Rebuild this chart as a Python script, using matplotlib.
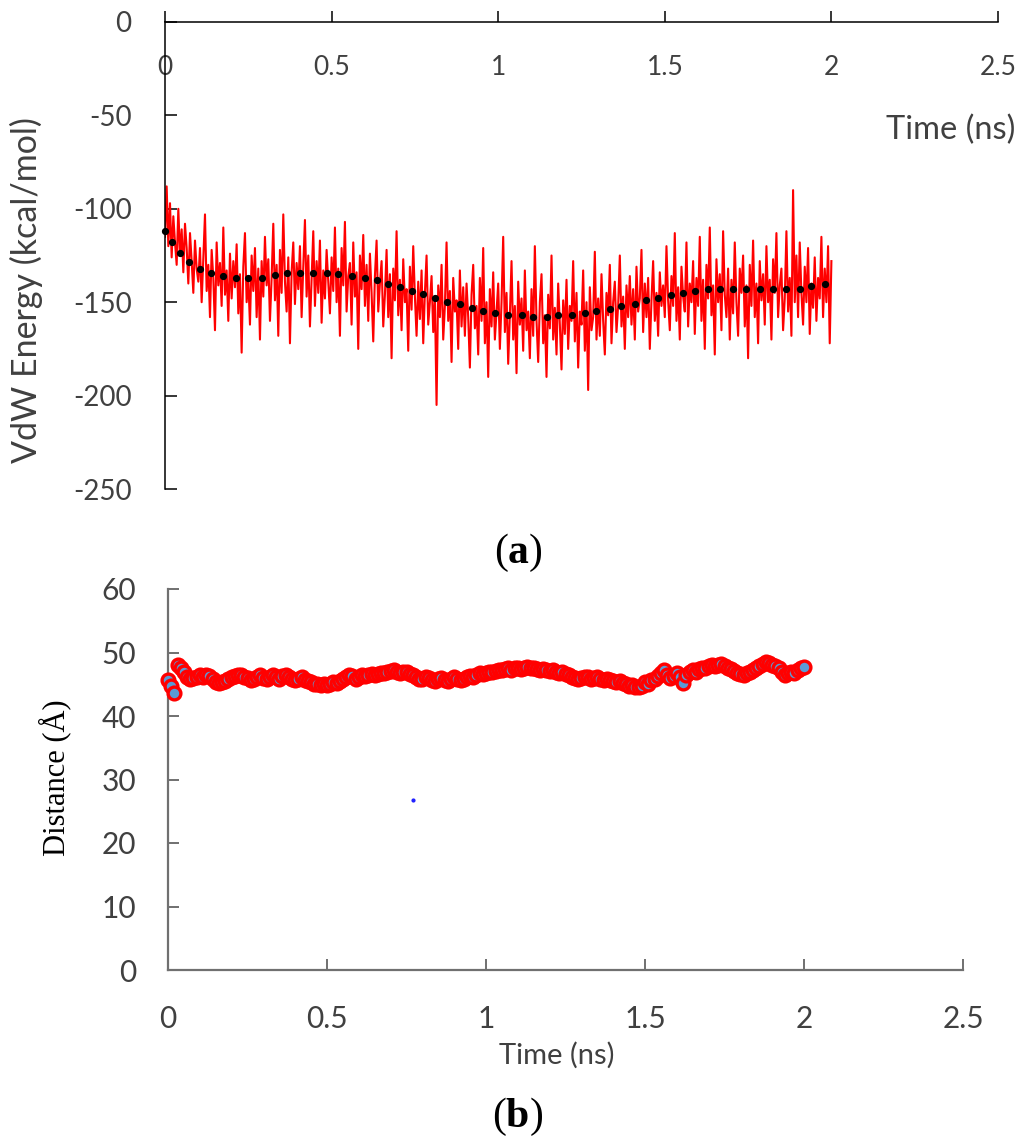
import numpy as np
import matplotlib
matplotlib.use("Agg")
import matplotlib.pyplot as plt

# ---------------- data: panel (a) ----------------
vdw_dt = 0.005  # ns between frames
vdw_energy = [
    -115, -88, -120, -97, -126, -104, -118, -130, -100, -125, -111, -134, -108, -121, -140, -113, -128, -145, -117, -132,
    -139, -121, -150, -126, -103, -144, -130, -158, -122, -137, -165, -118, -141, -129, -152, -110, -146, -133, -160, -124,
    -148, -128, -142, -119, -156, -135, -177, -131, -113, -150, -138, -162, -125, -144, -121, -158, -132, -170, -128, -147,
    -115, -141, -127, -160, -137, -108, -149, -130, -168, -122, -145, -103, -139, -155, -126, -172, -134, -118, -151, -129,
    -143, -120, -158, -131, -106, -147, -125, -163, -138, -112, -152, -128, -145, -117, -161, -133, -148, -122, -139, -156,
    -126, -144, -110, -150, -132, -168, -121, -141, -107, -155, -136, -129, -162, -118, -147, -134, -175, -125, -143, -114,
    -152, -130, -160, -124, -145, -171, -136, -117, -155, -140, -128, -163, -146, -122, -158, -135, -180, -132, -149, -112,
    -157, -138, -165, -127, -150, -143, -176, -131, -154, -120, -147, -168, -139, -159, -133, -172, -145, -125, -162, -150,
    -136, -166, -148, -205, -141, -158, -130, -170, -152, -118, -160, -144, -182, -137, -155, -149, -175, -133, -163, -142,
    -168, -140, -158, -185, -146, -130, -164, -152, -178, -137, -160, -121, -172, -150, -190, -143, -163, -134, -170, -155,
    -140, -175, -150, -115, -166, -145, -183, -157, -128, -170, -152, -188, -139, -162, -148, -176, -133, -165, -155, -180,
    -143, -168, -120, -160, -182, -150, -135, -172, -157, -190, -146, -164, -125, -170, -153, -178, -140, -162, -186, -149,
    -167, -138, -175, -152, -160, -128, -171, -145, -185, -155, -162, -133, -176, -150, -197, -142, -165, -158, -123, -170,
    -148, -168, -135, -160, -178, -145, -157, -130, -172, -150, -139, -166, -152, -125, -163, -147, -175, -141, -158, -136,
    -162, -143, -170, -131, -155, -148, -122, -166, -140, -158, -137, -175, -149, -128, -160, -145, -168, -134, -152, -141,
    -158, -120, -149, -165, -136, -152, -113, -160, -142, -170, -131, -147, -155, -118, -163, -140, -150, -128, -167, -137,
    -152, -115, -160, -138, -175, -130, -148, -110, -157, -141, -178, -127, -150, -135, -165, -112, -146, -158, -132, -170,
    -138, -156, -118, -150, -168, -132, -145, -125, -163, -141, -180, -130, -152, -117, -158, -140, -172, -128, -149, -135,
    -162, -120, -150, -138, -170, -127, -145, -113, -158, -141, -132, -165, -148, -112, -155, -137, -168, -90, -150, -125,
    -158, -118, -145, -162, -131, -150, -121, -167, -140, -153, -126, -160, -137, -148, -115, -158, -132, -150, -120, -172,
    -128,
]
trend_time = [0, 0.02, 0.045, 0.072, 0.105, 0.137, 0.175, 0.213, 0.25, 0.29, 0.33, 0.365, 0.405, 0.445,
              0.485, 0.52, 0.56, 0.6, 0.635, 0.67, 0.705, 0.74, 0.775, 0.81, 0.845, 0.885, 0.92, 0.955,
              0.99, 1.03, 1.07, 1.105, 1.145, 1.18, 1.22, 1.26, 1.295, 1.335, 1.37, 1.41, 1.445, 1.48,
              1.52, 1.555, 1.59, 1.63, 1.665, 1.705, 1.745, 1.785, 1.825, 1.865, 1.905, 1.94, 1.98]
trend_energy = [-112, -118, -123.5, -128.7, -132, -134.6, -136, -136.9, -136.9, -137, -135.6, -134.6, -134.6, -134.6,
                -134.6, -135, -135.8, -137, -138, -140.5, -141.7, -144, -145.6, -147.6, -150, -151, -153.3, -154.6,
                -155.8, -157, -157, -158, -158, -157, -157, -155.8, -154.7, -153.5, -152.2, -151, -149, -147.6,
                -146.3, -145, -144, -143, -143, -143, -143, -143, -143, -143, -143, -141.5, -140.5]
a_xticks = [0, 0.5, 1, 1.5, 2, 2.5]
a_xticklabels = ["0", "0.5", "1", "1.5", "2", "2.5"]
a_yticks = [0, -50, -100, -150, -200, -250]
a_yticklabels = ["0", "-50", "-100", "-150", "-200", "-250"]

# ---------------- data: panel (b) ----------------
dist_dt = 0.01
distance = [
    45.6, 44.8, 43.7, 48.0, 47.6, 46.9, 46.2, 45.8, 46.0, 46.2,
    46.4, 46.1, 46.5, 46.3, 45.9, 45.4, 45.2, 45.4, 45.5, 45.8,
    46.1, 46.3, 46.5, 46.4, 46.2, 46.0, 45.7, 45.9, 46.2, 46.4,
    46.0, 45.8, 46.1, 46.4, 46.2, 45.9, 46.3, 46.5, 46.2, 45.8,
    45.6, 45.9, 46.1, 45.7, 45.5, 45.3, 45.1, 45.0, 44.9, 45.0,
    44.9, 45.1, 45.3, 45.2, 45.5, 45.8, 46.1, 46.5, 46.3, 45.9,
    46.2, 46.4, 46.3, 46.5, 46.6, 46.4, 46.6, 46.8, 46.7, 46.9,
    47.1, 47.2, 47.0, 46.8, 47.0, 46.9, 46.6, 46.4, 46.1, 45.8,
    45.9, 46.2, 46.0, 45.7, 45.5, 45.8, 46.0, 45.7, 45.5, 45.8,
    46.1, 45.9, 45.6, 45.8, 46.1, 46.3, 46.2, 46.5, 46.7, 46.6,
    46.8, 47.0, 46.9, 47.1, 47.3, 47.2, 47.4, 47.5, 47.3, 47.5,
    47.6, 47.4, 47.6, 47.7, 47.5, 47.6, 47.4, 47.2, 47.4, 47.3,
    47.1, 47.2, 47.0, 46.8, 46.9, 46.6, 46.4, 46.1, 46.0, 45.8,
    46.0, 46.2, 46.1, 45.9, 46.0, 46.2, 45.9, 45.7, 45.8, 45.6,
    45.5, 45.3, 45.5, 45.2, 45.0, 44.8, 44.9, 44.6, 44.5, 44.7,
    45.3, 45.0, 45.6, 45.9, 46.3, 46.7, 47.2, 46.4, 46.0, 46.3,
    46.7, 46.2, 45.2, 46.5, 46.9, 47.2, 47.0, 47.4, 47.6, 47.5,
    47.8, 48.0, 47.8, 48.1, 48.2, 47.9, 47.6, 47.4, 47.1, 46.8,
    46.6, 46.4, 46.7, 47.0, 47.3, 47.5, 47.9, 48.2, 48.5, 48.4,
    48.1, 47.8, 47.5, 46.9, 46.4, 46.8, 47.0, 46.7, 47.2, 47.6,
    47.7,
]
stray_time = [0.77]
stray_distance = [26.8]
b_xticks = [0, 0.5, 1, 1.5, 2, 2.5]
b_xticklabels = ["0", "0.5", "1", "1.5", "2", "2.5"]
b_yticks = [0, 10, 20, 30, 40, 50, 60]
b_yticklabels = ["0", "10", "20", "30", "40", "50", "60"]

# ---------------- figure ----------------
plt.rcParams["font.family"] = ["Lato", "DejaVu Sans"]
plt.rcParams["mathtext.fontset"] = "custom"
plt.rcParams["mathtext.bf"] = "Liberation Serif:bold"
plt.rcParams["mathtext.rm"] = "Liberation Serif"

W, H = 1024, 1144
fig = plt.figure(figsize=(W / 100, H / 100), dpi=100)


def rect(x0, x1, ytop, ybot):
    return [x0 / W, 1 - ybot / H, (x1 - x0) / W, (ybot - ytop) / H]


TXT = "#404040"

# ----- panel (a)
ax1 = fig.add_axes(rect(165, 998, 22, 489))
t_vdw = np.arange(len(vdw_energy)) * vdw_dt
ax1.plot(t_vdw, vdw_energy, color="#ff0000", lw=1.5, zorder=2)
ax1.plot(trend_time, trend_energy, ls="none", marker="o", ms=4.2, color="black", zorder=3, clip_on=False)
ax1.set_xlim(0, 2.5)
ax1.set_ylim(-250, 0)
for s in ("right", "top"):
    ax1.spines[s].set_visible(False)
ax1.spines["bottom"].set_position(("data", 0))
for s in ("bottom", "left"):
    ax1.spines[s].set_linewidth(1.1)
    ax1.spines[s].set_color("black")
ax1.set_xticks(a_xticks)
ax1.set_xticklabels(a_xticklabels)
ax1.set_yticks(a_yticks)
ax1.set_yticklabels(a_yticklabels)
ax1.tick_params(axis="x", direction="in", length=8, width=1.1, pad=24, labelsize=19, labelcolor=TXT)
ax1.tick_params(axis="y", direction="in", length=8.5, width=1.1, pad=24, labelsize=20, labelcolor=TXT)
fig.text(26 / W, 1 - 290 / H, "VdW Energy (kcal/mol)", rotation=90, ha="center", va="center",
         fontsize=24.5, color=TXT)
fig.text(1015 / W, 1 - 130 / H, "Time (ns)", ha="right", va="center", fontsize=23.5, color=TXT)
fig.text(518 / W, 1 - 553 / H, "(" + r"$\mathbf{a}$" + ")", ha="center", va="center",
         fontsize=30, family="Liberation Serif", color="black")

# ----- panel (b)
ax2 = fig.add_axes(rect(168, 963, 589, 970))
t_dist = np.arange(len(distance)) * dist_dt
ax2.plot(t_dist, distance, ls="none", marker="o", ms=9.2, mfc="#5b9bd5", mec="#ff0000", mew=2.4,
         zorder=3, clip_on=False)
ax2.plot(stray_time, stray_distance, ls="none", marker="o", ms=2, color="#2020ff", zorder=3)
ax2.set_xlim(0, 2.5)
ax2.set_ylim(0, 60)
for s in ("right", "top"):
    ax2.spines[s].set_visible(False)
for s in ("bottom", "left"):
    ax2.spines[s].set_linewidth(1.6)
    ax2.spines[s].set_color("#707070")
ax2.set_xticks(b_xticks)
ax2.set_xticklabels(b_xticklabels)
ax2.set_yticks(b_yticks)
ax2.set_yticklabels(b_yticklabels)
ax2.tick_params(axis="both", direction="in", length=8, width=1.4, color="#707070", labelsize=21.5,
                labelcolor=TXT)
ax2.tick_params(axis="x", pad=25)
ax2.tick_params(axis="y", pad=23)
fig.text(557 / W, 1 - 1055 / H, "Time (ns)", ha="center", va="center", fontsize=21, color=TXT)
fig.text(55 / W, 1 - 778 / H, "Distance (Å)", rotation=90, ha="center", va="center",
         fontsize=22, family="Liberation Serif", color="black")
fig.text(518 / W, 1 - 1117 / H, "(" + r"$\mathbf{b}$" + ")", ha="center", va="center",
         fontsize=30, family="Liberation Serif", color="black")

fig.savefig("out.png", dpi=100)
